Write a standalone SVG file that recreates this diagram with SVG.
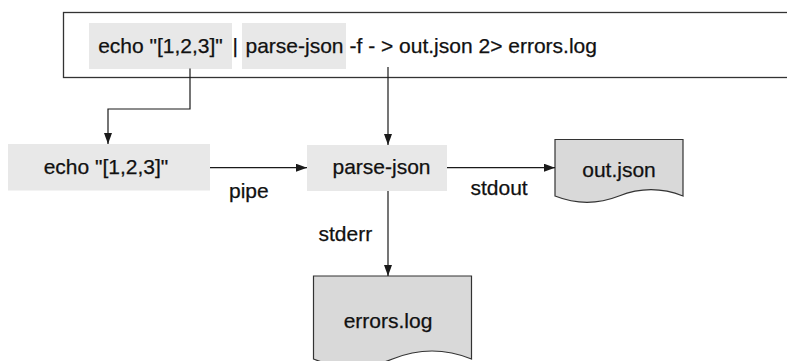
<svg xmlns="http://www.w3.org/2000/svg" width="787" height="361" viewBox="0 0 787 361">
<defs>
<marker id="arr" markerUnits="userSpaceOnUse" markerWidth="11" markerHeight="8" refX="11" refY="4" orient="auto">
<path d="M0,0 L11,4 L0,8 z" fill="#1a1a1a"/>
</marker>
<style>
text{font-family:"Liberation Sans",Arial,sans-serif;font-size:21px;fill:#111;stroke:#111;stroke-width:0.25}
.hl{fill:#e8e8e8}
.box{fill:#e8e8e8}
.doc{fill:#d9d9d9;stroke:#333;stroke-width:1.2}
.edge{fill:none;stroke:#1a1a1a;stroke-width:1.2;marker-end:url(#arr)}
.mid{text-anchor:middle}
</style>
</defs>
<rect width="787" height="361" fill="#fff"/>
<g id="command">
<rect x="63.5" y="12.5" width="740" height="65" fill="#fff" stroke="#333" stroke-width="1.3"/>
<rect class="hl" x="89" y="23" width="143" height="46"/>
<rect class="hl" x="242" y="23" width="104" height="46"/>
<text class="mid" x="160.5" y="53.3">echo "[1,2,3]"</text>
<text x="232.5" y="53.3">|</text>
<text class="mid" x="294.5" y="53.3">parse-json</text>
<text x="349.5" y="53.3">-f - &gt; out.json 2&gt; errors.log</text>
</g>
<g id="echo">
<rect class="box" x="8" y="144" width="202" height="46.5"/>
<text class="mid" x="106" y="174.3">echo "[1,2,3]"</text>
</g>
<g id="parse-json">
<rect class="box" x="307" y="145" width="140" height="46"/>
<text class="mid" x="381.5" y="174.3">parse-json</text>
</g>
<g id="out-json">
<path class="doc" d="M555,139.5 L683,139.5 L683,196 Q651,183.4 619,196 Q587,208.6 555,196 Z"/>
<text class="mid" x="619" y="176.5">out.json</text>
</g>
<g id="errors-log">
<path class="doc" d="M313.5,276 L471.5,276 L471.5,359 Q432,343 392.5,359 Q353,375 313.5,359 Z"/>
<text class="mid" x="388" y="328.3">errors.log</text>
</g>
<g id="connectors">
<path class="edge" d="M190,68.5 V109 H108 V144"/>
<path class="edge" d="M388,67 V145"/>
<path class="edge" d="M210,167.7 H307"/>
<path class="edge" d="M447,167.7 H555"/>
<path class="edge" d="M388,191 V276"/>
<text x="229" y="197.5">pipe</text>
<text x="470.5" y="195">stdout</text>
<text x="318.5" y="240.7">stderr</text>
</g>
</svg>
